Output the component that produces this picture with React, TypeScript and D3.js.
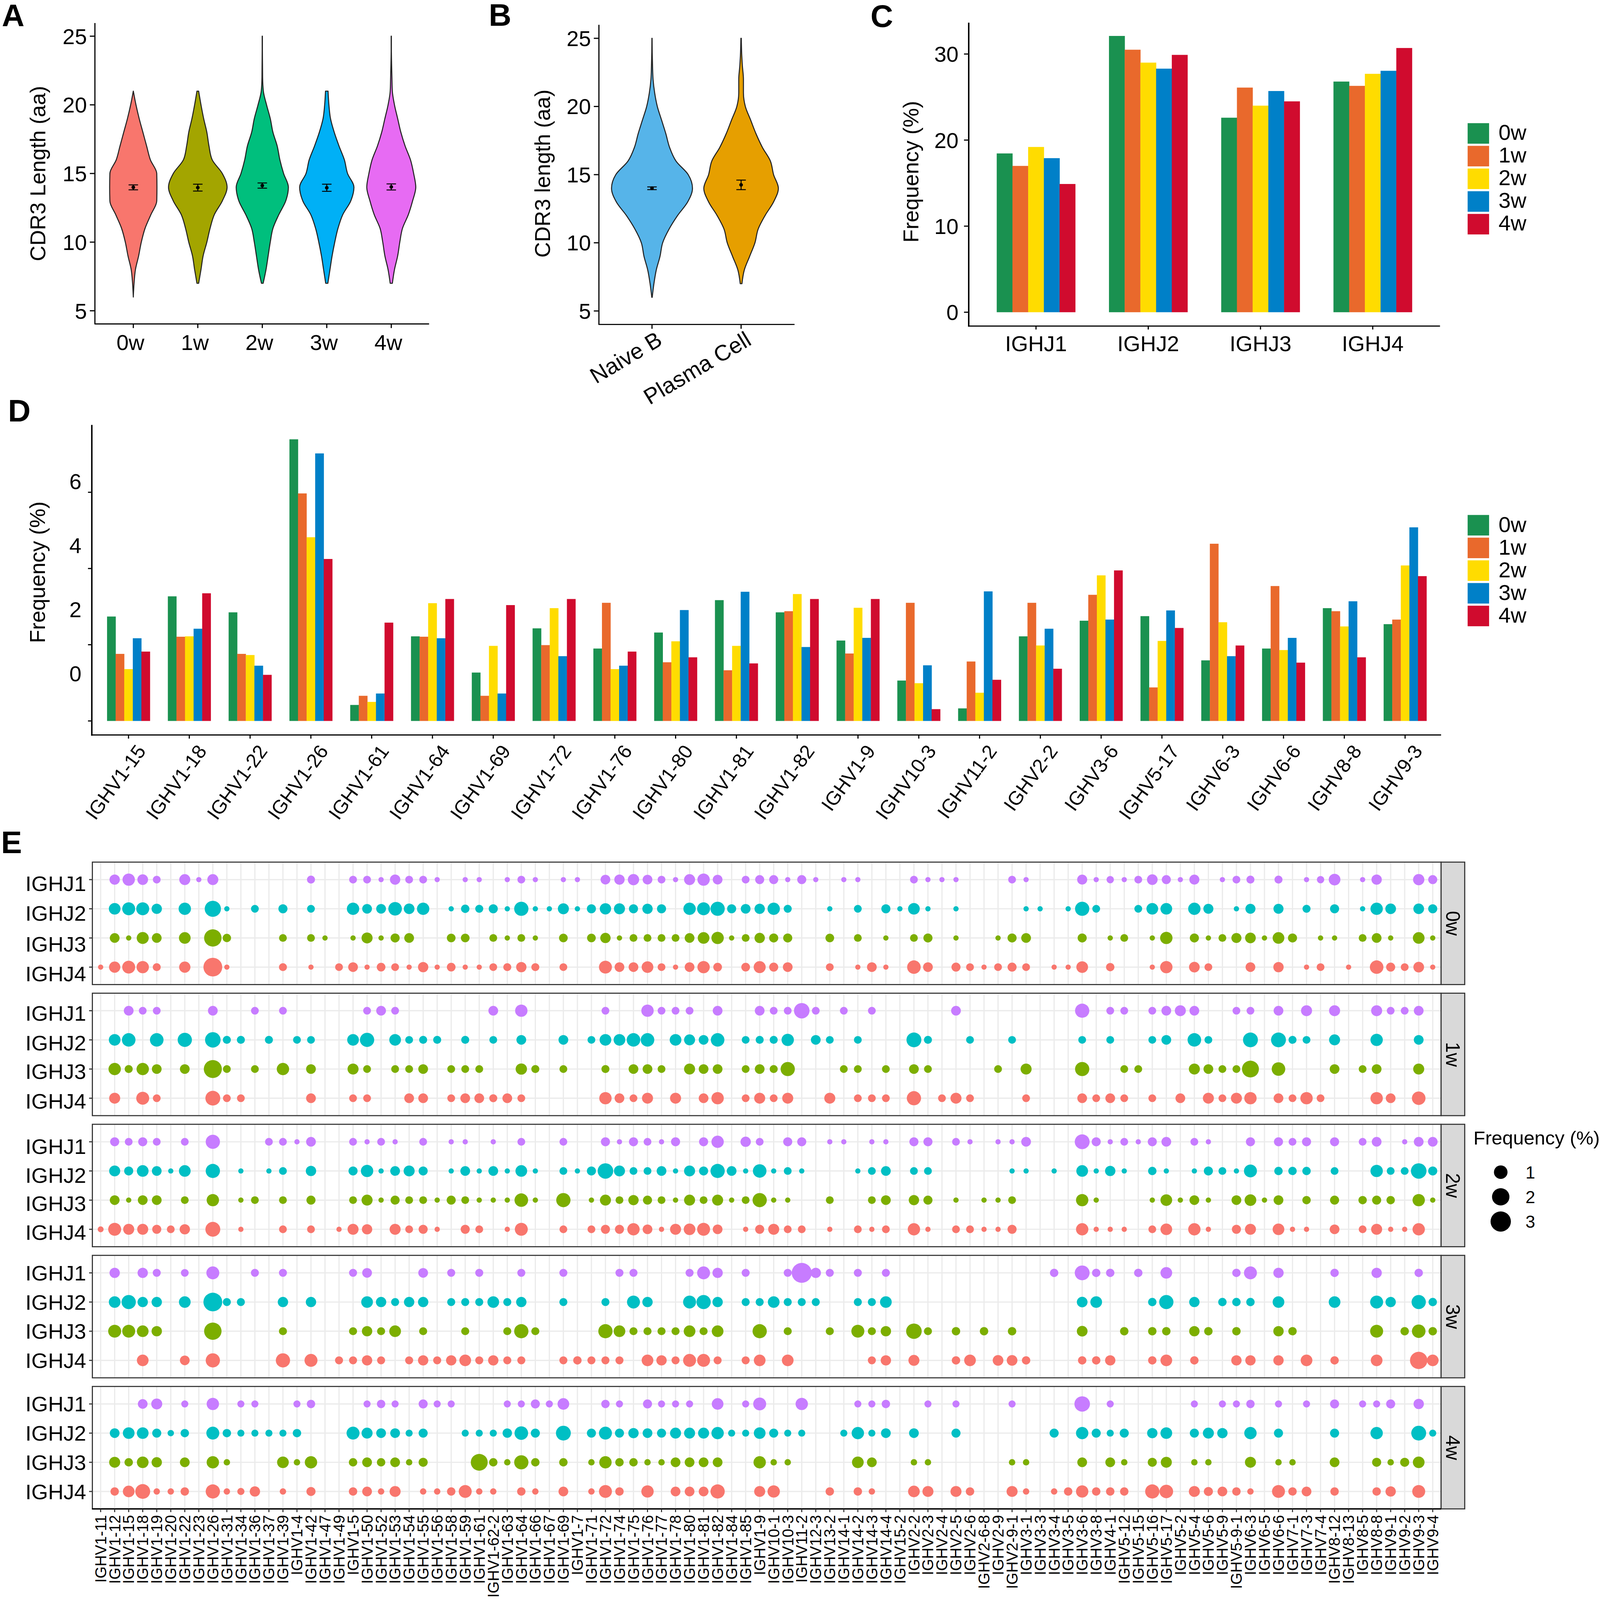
import React from "react";
import * as d3 from "d3";

const FONT = "'Liberation Sans', Arial, sans-serif";
const weeks = ["0w", "1w", "2w", "3w", "4w"];
const barColors = ["#1A9150", "#E9692C", "#FFDC00", "#0080C8", "#D00B2E"];

// Panel A
const violinBottomA = [6, 7, 7, 7, 7];
const densA0 = [0, .007, .02, .05, .075, .11, .165, .22, .222, .22, .16, .125, .09, .055, .025, 0];
const densA1 = [.008, .03, .05, .085, .115, .155, .23, .275, .23, .135, .105, .085, .055, .03, .008];
const densA2 = [.008, .035, .055, .075, .1, .155, .22, .245, .2, .165, .14, .1, .075, .04, .01, .003, .002, .001, .001];
const densA3 = [.01, .03, .05, .075, .105, .15, .225, .255, .195, .165, .115, .07, .035, .02, .012];
const densA4 = [.01, .03, .06, .08, .105, .16, .2, .23, .21, .18, .13, .09, .06, .03, .01, .006, .003, .001, .001];
const meansA = [13.99, 13.97, 14.12, 13.96, 14.02];
const errsA = [.18, .25, .19, .26, .22];
const colorsA = ["#F8766D", "#A3A500", "#00BF7D", "#00B0F6", "#E76BF3"];

// Panel B
const catsB = ["Naive B", "Plasma Cell"];
const violinBottomB = [6, 7];
const densB0 = [.002, .018, .04, .075, .10, .16, .24, .335, .38, .34, .225, .165, .13, .09, .05, .025, .01, .005, .002, .001];
const densB1 = [.008, .03, .08, .13, .16, .225, .305, .35, .305, .275, .2, .14, .09, .04, .022, .022, .012, .005, .002];
const meansB = [14, 14.25];
const errsB = [.1, .35];
const colorsB = ["#56B4E9", "#E69F00"];

// Panel C
const catsC = ["IGHJ1", "IGHJ2", "IGHJ3", "IGHJ4"];
const valsC = [
  [18.45, 17.0, 19.2, 17.9, 14.9],
  [32.1, 30.5, 29.0, 28.3, 29.9],
  [22.6, 26.1, 24.0, 25.7, 24.5],
  [26.8, 26.3, 27.7, 28.05, 30.7],
];

// Panel D
const catsD = ["IGHV1-15", "IGHV1-18", "IGHV1-22", "IGHV1-26", "IGHV1-61", "IGHV1-64", "IGHV1-69", "IGHV1-72", "IGHV1-76", "IGHV1-80", "IGHV1-81", "IGHV1-82", "IGHV1-9", "IGHV10-3", "IGHV11-2", "IGHV2-2", "IGHV3-6", "IGHV5-17", "IGHV6-3", "IGHV6-6", "IGHV8-8", "IGHV9-3"];
const valsD = [
  [2.74, 1.76, 1.36, 2.17, 1.82],
  [3.27, 2.21, 2.22, 2.42, 3.35],
  [2.85, 1.76, 1.73, 1.45, 1.21],
  [7.39, 5.97, 4.82, 7.02, 4.25],
  [.42, .66, .5, .72, 2.58],
  [2.22, 2.21, 3.09, 2.17, 3.2],
  [1.27, .66, 1.97, .72, 3.04],
  [2.43, 1.99, 2.96, 1.7, 3.2],
  [1.9, 3.1, 1.36, 1.45, 1.82],
  [2.32, 1.54, 2.09, 2.91, 1.67],
  [3.17, 1.33, 1.97, 3.39, 1.51],
  [2.85, 2.88, 3.33, 1.94, 3.2],
  [2.11, 1.77, 2.97, 2.18, 3.2],
  [1.06, 3.1, .99, 1.46, .31],
  [.33, 1.56, .74, 3.4, 1.08],
  [2.22, 3.1, 1.98, 2.42, 1.37],
  [2.63, 3.31, 3.82, 2.66, 3.95],
  [2.75, .88, 2.1, 2.9, 2.44],
  [1.59, 4.65, 2.59, 1.7, 1.98],
  [1.9, 3.54, 1.86, 2.18, 1.53],
  [2.96, 2.88, 2.48, 3.14, 1.67],
  [2.54, 2.66, 4.08, 5.08, 3.8],
];
const ticksD = [0, 2, 4, 6];

// Panel E
const genes = ["1-11", "1-12", "1-15", "1-18", "1-19", "1-20", "1-22", "1-23", "1-26", "1-31", "1-34", "1-36", "1-37", "1-39", "1-4", "1-42", "1-47", "1-49", "1-5", "1-50", "1-52", "1-53", "1-54", "1-55", "1-56", "1-58", "1-59", "1-61", "1-62-2", "1-63", "1-64", "1-66", "1-67", "1-69", "1-7", "1-71", "1-72", "1-74", "1-75", "1-76", "1-77", "1-78", "1-80", "1-81", "1-82", "1-84", "1-85", "1-9", "10-1", "10-3", "11-2", "12-3", "13-2", "14-1", "14-2", "14-3", "14-4", "15-2", "2-2", "2-3", "2-4", "2-5", "2-6", "2-6-8", "2-9", "2-9-1", "3-1", "3-3", "3-4", "3-5", "3-6", "3-8", "4-1", "5-12", "5-15", "5-16", "5-17", "5-2", "5-4", "5-6", "5-9", "5-9-1", "6-3", "6-5", "6-6", "7-1", "7-3", "7-4", "8-12", "8-13", "8-5", "8-8", "9-1", "9-2", "9-3", "9-4"].map(g => "IGHV" + g);
const joins = ["IGHJ1", "IGHJ2", "IGHJ3", "IGHJ4"];
const joinColors = ["#C77CFF", "#00BFC4", "#7CAE00", "#F8766D"];

type P = [number, number][];
const w0J1: P = [[1,.42],[2,.75],[3,.47],[4,.14],[6,.52],[7,.01],[8,.52],[15,.16],[18,.14],[19,.14],[20,.01],[21,.42],[22,.14],[23,.14],[24,.01],[26,.01],[27,.01],[29,.01],[30,.14],[31,.01],[33,.01],[34,.01],[36,.34],[37,.42],[38,.57],[39,.34],[40,.14],[41,.01],[42,.52],[43,.75],[44,.34],[46,.14],[47,.26],[48,.26],[49,.01],[50,.26],[51,.01],[53,.01],[54,.01],[58,.14],[59,.01],[60,.01],[61,.01],[65,.14],[66,.01],[70,.38],[71,.01],[72,.11],[73,.01],[74,.14],[75,.47],[76,.26],[77,.01],[78,.38],[80,.01],[81,.14],[82,.16],[84,.16],[86,.01],[87,.11],[88,.63],[90,.01],[91,.42],[94,.57],[95,.26]];
const w0J2: P = [[1,.63],[2,.87],[3,.87],[4,.42],[6,.75],[8,1.65],[9,.01],[11,.14],[13,.26],[15,.14],[18,.75],[19,.34],[20,.34],[21,1],[22,.47],[23,.75],[25,.01],[26,.19],[27,.16],[28,.26],[29,.01],[30,1.15],[31,.01],[32,.01],[33,.52],[34,.01],[35,.26],[36,.57],[37,.52],[38,.26],[39,.42],[40,.26],[42,.75],[43,.87],[44,1.15],[45,.26],[46,.34],[47,.42],[48,.75],[49,.16],[52,.01],[54,.14],[56,.26],[57,.01],[58,.63],[59,.01],[61,.01],[66,.01],[67,.01],[69,.01],[70,1.15],[71,.14],[74,.14],[75,.63],[76,.63],[78,.75],[79,.38],[81,.01],[82,.38],[84,.38],[86,.16],[88,.26],[90,.01],[91,.75],[92,.47],[94,.47],[95,.26]];
const w0J3: P = [[1,.34],[2,.01],[3,.69],[4,.34],[6,.63],[8,2],[9,.19],[13,.14],[15,.14],[16,.01],[18,.01],[19,.52],[20,.01],[21,.26],[22,.34],[25,.22],[26,.22],[28,.14],[29,.01],[30,.14],[31,.01],[33,.22],[35,.22],[36,.42],[37,.01],[38,.14],[39,.14],[40,.14],[41,.14],[42,.34],[43,.63],[44,.75],[45,.01],[46,.14],[47,.42],[48,.26],[49,.26],[52,.22],[54,.14],[56,.01],[58,.14],[59,.26],[61,.01],[64,.01],[65,.26],[66,.34],[70,.26],[72,.01],[73,.14],[75,.01],[76,.75],[78,.26],[79,.01],[80,.14],[81,.38],[82,.47],[83,.01],[84,.63],[85,.26],[87,.01],[88,.01],[90,.14],[91,.34],[92,.01],[94,.63],[95,.01]];
const w0J4: P = [[0,.01],[1,.57],[2,.87],[3,.75],[4,.16],[6,.57],[8,2.45],[9,.01],[13,.16],[15,.01],[17,.14],[18,.34],[19,.01],[20,.22],[21,.14],[22,.01],[23,.42],[24,.01],[25,.22],[26,.01],[27,.01],[28,.14],[29,.16],[30,.42],[31,.16],[33,.14],[36,.87],[37,.34],[38,.34],[39,.63],[40,.14],[41,.01],[42,.34],[43,.75],[44,.22],[46,.22],[47,.69],[48,.26],[49,.34],[52,.14],[54,.01],[55,.34],[56,.01],[58,1],[59,.34],[61,.26],[62,.14],[63,.01],[64,.14],[65,.26],[66,.14],[68,.01],[69,.01],[70,.63],[72,.19],[75,.01],[76,.75],[78,.47],[79,.14],[82,.34],[84,.42],[86,.01],[87,.14],[89,.01],[91,1],[92,.26],[93,.14],[94,.47],[95,.01]];

const w1J1: P = [[2,.34],[3,.14],[4,.14],[8,.34],[11,.14],[13,.14],[19,.14],[20,.34],[21,.14],[28,.34],[30,.75],[36,.14],[39,.75],[40,.14],[41,.14],[42,.14],[44,.34],[47,.34],[48,.14],[49,.14],[50,1.47],[51,.14],[53,.14],[55,.14],[61,.34],[70,1.15],[72,.14],[73,.14],[75,.14],[76,.34],[77,.52],[78,.34],[81,.14],[82,.14],[84,.34],[86,.52],[88,.52],[91,.52],[92,.14],[93,.14],[94,.34]];
const w1J2: P = [[1,.63],[2,1],[4,1],[6,1.15],[8,1.47],[9,.16],[10,.16],[12,.16],[14,.14],[15,.14],[18,.63],[19,1.15],[21,.63],[22,.14],[23,.16],[24,.16],[26,.16],[28,.14],[30,.34],[33,.34],[35,.14],[36,.63],[37,.63],[38,1],[39,1],[41,.63],[42,.52],[43,.34],[44,1],[46,.14],[47,.16],[48,.16],[49,.75],[51,.34],[52,.14],[54,.14],[58,1.3],[59,.16],[62,.14],[65,.14],[70,.14],[72,.14],[75,.14],[76,.34],[78,1],[79,.14],[82,1.3],[84,1.3],[85,.16],[86,.14],[88,.52],[91,.75],[94,.34]];
const w1J3: P = [[1,.75],[2,.16],[3,.75],[4,.34],[6,.34],[8,2.2],[9,.14],[11,.14],[13,.75],[15,.34],[18,.52],[19,.14],[21,.14],[22,.14],[23,.34],[25,.14],[26,.14],[27,.14],[30,.57],[31,.16],[33,.14],[36,.16],[38,.34],[39,.34],[40,.14],[42,.52],[43,.34],[44,.34],[46,.14],[47,.34],[48,.16],[49,1.15],[53,.14],[54,.14],[56,.14],[58,.34],[59,.14],[64,.14],[66,.52],[70,1.15],[73,.14],[74,.14],[78,.52],[79,.34],[80,.14],[81,.14],[82,1.85],[84,1],[88,.34],[90,.14],[91,.34],[94,.52]];
const w1J4: P = [[1,.52],[3,.87],[4,.14],[8,1.3],[9,.14],[10,.14],[15,.34],[18,.14],[19,.14],[22,.34],[23,.34],[25,.14],[26,.34],[27,.34],[28,.16],[29,.34],[30,.14],[36,.75],[37,.34],[38,.14],[39,.52],[41,.52],[43,.34],[44,.75],[46,.14],[47,.52],[48,.14],[49,.52],[52,.52],[54,.14],[55,.14],[56,.14],[58,1.15],[60,.14],[61,.52],[62,.14],[66,.14],[70,.34],[71,.14],[72,.34],[73,.14],[75,.14],[77,.34],[79,.52],[80,.14],[81,.52],[82,.75],[84,.34],[85,.14],[86,.75],[87,.14],[91,.75],[92,.34],[94,1]];

const w2J1: P = [[1,.26],[2,.14],[3,.26],[4,.14],[6,.14],[8,1.15],[12,.14],[13,.14],[14,.01],[15,.34],[18,.14],[19,.01],[20,.14],[21,.01],[23,.14],[25,.01],[26,.01],[28,.01],[30,.14],[33,.14],[36,.26],[37,.01],[38,.26],[39,.14],[40,.01],[41,.26],[43,.26],[44,.75],[46,.42],[47,.14],[49,.26],[50,.26],[52,.01],[53,.01],[55,.01],[56,.01],[58,.26],[59,.26],[61,.14],[62,.01],[64,.01],[65,.01],[66,.34],[70,1.3],[71,.26],[72,.01],[73,.14],[74,.01],[75,.26],[76,.34],[78,.14],[79,.01],[82,.26],[84,.26],[85,.14],[86,.26],[88,.26],[90,.14],[91,.34],[93,.01],[94,.34],[95,.34]];
const w2J2: P = [[1,.52],[2,.26],[3,.63],[4,.34],[5,.01],[6,.63],[8,1.15],[10,.01],[12,.01],[13,.14],[15,.42],[18,.26],[19,.75],[20,.01],[21,.34],[22,.52],[23,.26],[25,.01],[26,.34],[27,.01],[28,.34],[29,.01],[30,.63],[31,.01],[33,.14],[34,.01],[35,.26],[36,1.47],[37,.52],[38,.14],[39,.14],[40,.34],[41,.01],[42,.52],[43,.26],[44,1.15],[45,.34],[46,.01],[47,1],[48,.01],[49,.14],[50,.01],[54,.01],[55,.14],[56,.34],[58,.14],[59,.14],[65,.01],[66,.01],[68,.01],[70,.63],[71,.01],[72,.42],[73,.01],[75,.19],[76,.01],[78,.01],[79,.26],[80,.14],[81,.01],[82,.87],[84,.19],[85,.19],[86,.19],[88,.14],[91,.75],[92,.14],[93,.14],[94,1.47],[95,.26]];
const w2J3: P = [[1,.34],[2,.01],[3,.34],[4,.34],[6,.14],[8,.75],[10,.01],[11,.14],[13,.14],[15,.26],[18,.14],[19,.52],[20,.01],[21,.26],[22,.14],[23,.14],[24,.01],[25,.26],[26,.14],[27,.01],[28,.01],[29,.01],[30,1],[31,.01],[33,1.15],[35,.01],[36,.52],[37,.14],[38,.42],[39,.26],[40,.14],[41,.01],[42,.52],[43,.14],[44,.52],[45,.01],[46,.14],[47,1.15],[48,.01],[49,.01],[52,.14],[55,.14],[56,.34],[58,.42],[59,.26],[61,.01],[63,.01],[64,.01],[65,.14],[70,.75],[71,.01],[75,.01],[76,.63],[77,.01],[78,.34],[79,.01],[81,.34],[82,.63],[83,.01],[84,.34],[86,.19],[88,.26],[90,.19],[91,.26],[92,.19],[94,.75],[95,.01]];
const w2J4: P = [[0,.03],[1,.87],[2,.52],[3,.52],[4,.26],[5,.14],[6,.42],[8,1.3],[10,.01],[13,.14],[15,.14],[17,.01],[18,.52],[19,.42],[21,.52],[22,.14],[23,.26],[24,.01],[26,.26],[27,.14],[29,.01],[30,.87],[33,.14],[35,.14],[36,.26],[37,.26],[38,.75],[39,.34],[40,.01],[41,.52],[42,.63],[43,.87],[44,.34],[46,.01],[47,.26],[48,.52],[49,.14],[50,.14],[52,.01],[54,.14],[55,.01],[56,.14],[58,.75],[59,.01],[61,.14],[62,.14],[63,.01],[64,.01],[65,.26],[70,.75],[71,.01],[72,.01],[73,.01],[75,.14],[76,.63],[78,.75],[79,.01],[81,.26],[82,.52],[84,.63],[85,.01],[86,.01],[88,.34],[90,.14],[91,.52],[92,.01],[93,.01],[94,.75]];

const w3J1: P = [[1,.42],[3,.42],[4,.16],[6,.14],[8,.87],[11,.16],[13,.16],[18,.16],[19,.34],[23,.34],[25,.16],[27,.16],[30,.16],[33,.16],[37,.16],[38,.16],[42,.16],[43,.87],[44,.42],[46,.16],[49,.16],[50,2.9],[51,.42],[52,.16],[54,.16],[56,.16],[68,.19],[70,1.3],[71,.19],[72,.19],[74,.19],[76,.63],[81,.19],[82,.87],[84,.42],[88,.19],[91,.42],[94,.19]];
const w3J2: P = [[1,.63],[2,1.15],[3,.42],[4,.42],[6,.63],[8,2.45],[9,.16],[10,.16],[13,.42],[15,.42],[19,.63],[20,.42],[21,.16],[22,.42],[23,.42],[25,.16],[26,.16],[27,.16],[28,.63],[29,.16],[30,.42],[33,.16],[36,.16],[38,.87],[39,.42],[42,.87],[43,1.15],[44,.42],[46,.16],[47,.16],[48,.63],[49,.16],[50,.16],[51,.16],[54,.16],[55,.16],[56,.63],[70,.47],[71,.63],[75,.19],[76,1.15],[78,.42],[80,.19],[81,.19],[82,.19],[84,.63],[88,.63],[91,.87],[92,.42],[94,1.15],[95,.19]];
const w3J3: P = [[1,.87],[2,.87],[3,.63],[4,.42],[8,2],[13,.16],[18,.16],[19,.42],[20,.16],[21,.63],[23,.16],[26,.16],[29,.16],[30,1.15],[31,.16],[36,1.15],[37,.63],[38,.16],[39,.16],[40,.16],[41,.16],[42,.63],[43,.16],[44,.63],[47,1.15],[49,.16],[52,.16],[54,.87],[55,.16],[56,.42],[58,1.47],[59,.16],[61,.19],[63,.19],[65,.19],[70,.47],[73,.19],[75,.19],[76,.19],[78,.42],[79,.19],[81,.19],[84,.42],[85,.19],[91,.87],[93,.19],[94,1],[95,.19]];
const w3J4: P = [[3,.63],[6,.34],[8,1.15],[13,1.15],[15,.87],[17,.16],[18,.16],[19,.42],[20,.16],[22,.16],[23,.42],[24,.16],[25,.42],[26,.63],[27,.16],[28,.42],[29,.16],[30,.16],[33,.16],[34,.19],[35,.16],[36,.16],[37,.16],[39,.63],[40,.42],[41,.16],[42,.87],[43,.87],[44,.16],[46,.16],[47,.63],[49,.63],[55,.16],[56,.42],[58,.52],[61,.19],[62,.63],[64,.47],[65,.47],[66,.19],[70,.19],[71,.19],[72,.42],[75,.19],[76,.63],[78,.19],[81,.42],[82,.42],[84,.42],[86,.63],[88,.19],[91,.63],[94,2],[95,.63]];

const w4J1: P = [[3,.34],[4,.52],[6,.09],[8,.75],[10,.09],[11,.09],[14,.09],[15,.19],[19,.09],[20,.19],[21,.09],[23,.26],[24,.09],[25,.09],[29,.09],[30,.09],[31,.26],[32,.09],[33,.63],[36,.19],[37,.09],[39,.26],[40,.09],[41,.09],[42,.09],[44,.63],[46,.09],[47,.87],[50,.75],[54,.09],[55,.09],[56,.19],[59,.09],[61,.09],[65,.09],[70,1.47],[72,.09],[78,.09],[80,.09],[81,.09],[82,.19],[84,.09],[86,.09],[88,.26],[90,.09],[91,.09],[92,.26],[94,.42]];
const w4J2: P = [[1,.34],[2,.63],[3,.63],[4,.26],[5,.05],[6,.19],[8,.87],[9,.19],[10,.09],[11,.09],[12,.09],[13,.09],[14,.19],[18,.87],[19,.52],[20,.34],[21,.34],[22,.09],[23,.26],[26,.09],[27,.09],[28,.09],[29,.3],[30,1],[31,.26],[33,1.3],[35,.26],[36,.87],[37,.26],[38,.42],[39,.34],[40,.26],[41,.52],[42,.52],[43,.52],[44,.75],[45,.09],[46,.09],[47,.63],[48,.26],[49,.09],[50,.09],[53,.09],[54,.75],[55,.09],[56,.34],[58,.34],[61,.26],[68,.26],[70,.75],[71,.26],[72,.09],[73,.26],[75,.42],[76,.63],[78,.26],[79,.52],[80,.42],[82,.75],[84,.26],[88,.26],[91,.75],[94,1.3],[95,.09]];
const w4J3: P = [[1,.52],[2,.19],[3,.63],[4,.42],[6,.34],[8,.75],[9,.05],[13,.63],[14,.05],[15,.75],[18,.19],[19,.34],[20,.19],[21,.34],[22,.05],[23,.26],[27,1.85],[28,.19],[29,.05],[30,1.15],[31,.19],[33,.19],[35,.05],[36,.75],[37,.19],[38,.19],[39,.05],[40,.05],[41,.34],[42,.34],[43,.34],[44,.34],[47,.75],[48,.05],[49,.05],[54,.63],[55,.34],[58,.05],[59,.05],[65,.05],[66,.05],[70,.34],[72,.34],[73,.05],[75,.26],[76,.52],[78,.05],[79,.05],[82,.52],[84,.05],[85,.05],[88,.34],[91,.26],[92,.05],[93,.26],[94,.63]];
const w4J4: P = [[1,.19],[2,.63],[3,1.3],[4,.05],[5,.05],[6,.19],[8,1.15],[9,.05],[10,.09],[11,.42],[13,.05],[15,.26],[18,.19],[19,.34],[20,.05],[21,.52],[23,.05],[24,.05],[25,.19],[26,.87],[27,.05],[28,.05],[30,.19],[31,.05],[33,.34],[35,.05],[36,.87],[37,.19],[39,.75],[41,.34],[42,.34],[43,.34],[44,1.15],[47,.52],[48,.75],[52,.19],[54,.19],[55,.05],[58,.63],[59,.52],[61,.52],[62,.19],[65,.52],[66,.05],[68,.05],[69,.19],[70,.75],[71,.19],[72,.19],[73,.19],[75,1.15],[76,1],[78,.52],[79,.26],[80,.34],[81,.19],[82,.05],[84,.87],[85,.19],[86,.34],[88,.19],[91,.19],[92,.42],[94,.87]];

const rowsE: P[][] = [
  [w0J1, w0J2, w0J3, w0J4],
  [w1J1, w1J2, w1J3, w1J4],
  [w2J1, w2J2, w2J3, w2J4],
  [w3J1, w3J2, w3J3, w3J4],
  [w4J1, w4J2, w4J3, w4J4],
];
const legendSizes = [1, 2, 3];

// layout only
const lw = 3.2;
const panelTops = [2394, 2758, 3122, 3486, 3850];
const panelH = 340;
const labelShifts = [[10, 12, 16, 18], [7, 8, 6, 8], [12, 12, 9, 8], [0, 0, 0, 0], [-1, 0, 0, 0]];

const densA = [densA0, densA1, densA2, densA3, densA4];
const densB = [densB0, densB1];

const sizeScale = d3.scaleSqrt().domain([0, 3]).range([6, 28]);
const widthScale = d3.scaleLinear().domain([0, 1]).range([0, 293]);

function Violin({ cx, bottom, dens, y, fill, mean, err }: any) {
  const pts: [number, number][] = dens.map((d: number, i: number) => [bottom + i, d]);
  const path = d3.area<[number, number]>()
    .y(d => y(d[0]))
    .x0(d => cx - widthScale(d[1]))
    .x1(d => cx + widthScale(d[1]))
    .curve(d3.curveMonotoneY)(pts) as string;
  return (
    <g>
      <path d={path} fill={fill} stroke="#222" strokeWidth={2.8} strokeLinejoin="round" />
      <line x1={cx} x2={cx} y1={y(mean - err)} y2={y(mean + err)} stroke="#000" strokeWidth={2.6} />
      <line x1={cx - 13} x2={cx + 13} y1={y(mean - err)} y2={y(mean - err)} stroke="#000" strokeWidth={2.6} />
      <line x1={cx - 13} x2={cx + 13} y1={y(mean + err)} y2={y(mean + err)} stroke="#000" strokeWidth={2.6} />
      <circle cx={cx} cy={y(mean)} r={5} fill="#000" />
    </g>
  );
}

function Legend({ top, baseline }: { top: number; baseline: number }) {
  return (
    <g>
      {weeks.map((w, i) => (
        <g key={w}>
          <rect x={4036} y={top + i * 63} width={59} height={57} fill={barColors[i]} />
          <text x={4121} y={baseline + i * 63} fontSize={60}>{w}</text>
        </g>
      ))}
    </g>
  );
}

export default function App() {
  // A
  const yA = d3.scaleLinear().domain([5, 25]).range([863, 100.5]);
  const xA = d3.scalePoint().domain(weeks).range([366.6, 1076]);
  // B
  const yB = d3.scaleLinear().domain([5, 25]).range([863.5, 106.4]);
  const xB = d3.scalePoint().domain(catsB).range([1793, 2038]);
  // C
  const yC = d3.scaleLinear().domain([0, 30]).range([867, 150]);
  const xC = d3.scalePoint().domain(catsC).range([2849, 3775]);
  const bwC = 43.2;
  // D
  const yD = d3.scaleLinear().domain([0, 6]).range([2002, 1367]);
  const yDLabel = d3.scaleLinear().domain([0, 6]).range([1870, 1337]);
  const xD = d3.scalePoint().domain(catsD).range([353.4, 3864]);
  const bwD = 23.6;
  // E
  const xE = d3.scalePoint().domain(genes).range([276.8, 3940]);
  const yE = d3.scalePoint().domain(joins).range([48.6, 291.6]);
  const left = 254, right = 3963;

  return (
    <svg viewBox="0 0 4400 4443" preserveAspectRatio="none"
      style={{ position: "absolute", left: 0, top: 0, width: "100vw", height: "100vh", background: "#fff" }}
      fontFamily={FONT} fill="#000">
      {/* panel letters */}
      <g fontSize={86} fontWeight="bold">
        <text x={5} y={73}>A</text>
        <text x={1344} y={72}>B</text>
        <text x={2394} y={75}>C</text>
        <text x={22} y={1170}>D</text>
        <text x={3} y={2369}>E</text>
      </g>

      {/* A */}
      <g>
        {weeks.map((w, i) => (
          <Violin key={w} cx={xA(w)} bottom={violinBottomA[i]} dens={densA[i]} y={yA} fill={colorsA[i]} mean={meansA[i]} err={errsA[i]} />
        ))}
        <line x1={261} x2={261} y1={64} y2={900} stroke="#000" strokeWidth={lw} />
        <line x1={260} x2={1180} y1={899.5} y2={899.5} stroke="#000" strokeWidth={lw} />
        {yA.ticks(4).map(t => (
          <g key={t}>
            <line x1={247} x2={261} y1={yA(t)} y2={yA(t)} stroke="#000" strokeWidth={lw} />
            <text x={239} y={yA(t)} dy=".36em" textAnchor="end" fontSize={60}>{t}</text>
          </g>
        ))}
        {weeks.map(w => (
          <g key={w}>
            <line x1={xA(w)} x2={xA(w)} y1={899} y2={911} stroke="#000" strokeWidth={lw} />
            <text x={(xA(w) as number) - 8} y={972} textAnchor="middle" fontSize={60}>{w}</text>
          </g>
        ))}
        <text transform="translate(125,482) rotate(-90)" textAnchor="middle" fontSize={60}>CDR3 Length (aa)</text>
      </g>

      {/* B */}
      <g>
        {catsB.map((c, i) => (
          <Violin key={c} cx={xB(c)} bottom={violinBottomB[i]} dens={densB[i]} y={yB} fill={colorsB[i]} mean={meansB[i]} err={errsB[i]} />
        ))}
        <line x1={1647} x2={1647} y1={69} y2={902} stroke="#000" strokeWidth={lw} />
        <line x1={1646} x2={2185} y1={901} y2={901} stroke="#000" strokeWidth={lw} />
        {yB.ticks(4).map(t => (
          <g key={t}>
            <line x1={1633} x2={1647} y1={yB(t)} y2={yB(t)} stroke="#000" strokeWidth={lw} />
            <text x={1625} y={yB(t)} dy=".36em" textAnchor="end" fontSize={60}>{t}</text>
          </g>
        ))}
        {catsB.map(c => (
          <g key={c}>
            <line x1={xB(c)} x2={xB(c)} y1={901} y2={913} stroke="#000" strokeWidth={lw} />
            <text transform={`translate(${(xB(c) as number) + 32},${955}) rotate(-31)`} textAnchor="end" fontSize={62}>{c}</text>
          </g>
        ))}
        <text transform="translate(1513,482) rotate(-90)" textAnchor="middle" fontSize={60}>CDR3 length (aa)</text>
      </g>

      {/* C */}
      <g>
        {catsC.map((c, g) => valsC[g].map((v, i) => (
          <rect key={c + i} x={(xC(c) as number) - 2.5 * bwC + i * bwC} y={yC(v)} width={bwC + 0.5} height={yC(0) - yC(v)} fill={barColors[i]} />
        )))}
        <line x1={2664} x2={2664} y1={63} y2={907} stroke="#000" strokeWidth={4} />
        <line x1={2662} x2={3960} y1={905.5} y2={905.5} stroke="#000" strokeWidth={lw} />
        {yC.ticks(3).map(t => (
          <g key={t}>
            <line x1={2651} x2={2664} y1={yC(t)} y2={yC(t)} stroke="#000" strokeWidth={lw} />
            <text x={2636} y={yC(t)} dy=".36em" textAnchor="end" fontSize={60}>{t}</text>
          </g>
        ))}
        {catsC.map(c => (
          <g key={c}>
            <line x1={xC(c)} x2={xC(c)} y1={905} y2={915} stroke="#000" strokeWidth={lw} />
            <text x={xC(c)} y={975} textAnchor="middle" fontSize={60}>{c}</text>
          </g>
        ))}
        <text transform="translate(2526,477) rotate(-90)" textAnchor="middle" fontSize={60}>Frequency (%)</text>
        <Legend top={342} baseline={388} />
      </g>

      {/* D */}
      <g>
        {catsD.map((c, g) => valsD[g].map((v, i) => (
          <rect key={c + i} x={(xD(c) as number) - 2.5 * bwD + i * bwD} y={yD(v)} width={bwD + 0.4} height={yD(0) - yD(v)} fill={barColors[i]} />
        )))}
        <line x1={252.5} x2={252.5} y1={1180} y2={2043} stroke="#000" strokeWidth={4} />
        <line x1={251} x2={3963} y1={2041} y2={2041} stroke="#000" strokeWidth={lw} />
        {ticksD.map(t => (
          <g key={t}>
            <line x1={242} x2={252} y1={yD(t)} y2={yD(t)} stroke="#000" strokeWidth={lw} />
            <text x={224} y={yDLabel(t)} dy=".36em" textAnchor="end" fontSize={60}>{t}</text>
          </g>
        ))}
        {catsD.map(c => (
          <g key={c}>
            <line x1={xD(c)} x2={xD(c)} y1={2041} y2={2051} stroke="#000" strokeWidth={lw} />
            <text transform={`translate(${(xD(c) as number) + 50},${2086}) rotate(-54)`} textAnchor="end" fontSize={54}>{c}</text>
          </g>
        ))}
        <text transform="translate(124,1589) rotate(-90)" textAnchor="middle" fontSize={60}>Frequency (%)</text>
        <Legend top={1430} baseline={1477} />
      </g>

      {/* E */}
      <g>
        {rowsE.map((rows, p) => (
          <g key={p} transform={`translate(0,${panelTops[p]})`}>
            <rect x={left} y={0} width={right - left} height={panelH} fill="#fff" />
            {genes.map(g => (
              <line key={g} x1={xE(g)} x2={xE(g)} y1={0} y2={panelH} stroke="#EBEBEB" strokeWidth={3.4} />
            ))}
            {joins.map(j => (
              <line key={j} x1={left} x2={right} y1={yE(j)} y2={yE(j)} stroke="#EBEBEB" strokeWidth={3.4} />
            ))}
            {rows.map((row, r) => row.map(([i, f]) => (
              <circle key={r + "-" + i} cx={xE(genes[i])} cy={yE(joins[r])} r={sizeScale(f)} fill={joinColors[r]} />
            )))}
            <rect x={left} y={0} width={right - left} height={panelH} fill="none" stroke="#333" strokeWidth={3} />
            <rect x={right} y={0} width={65} height={panelH} fill="#D9D9D9" stroke="#333" strokeWidth={3} />
            <text transform={`translate(${right + 33},${panelH / 2}) rotate(90)`} textAnchor="middle" dy=".36em" fontSize={54}>{weeks[p]}</text>
            {joins.map((j, r) => (
              <g key={j}>
                <line x1={left - 9} x2={left} y1={yE(j)} y2={yE(j)} stroke="#333" strokeWidth={3} />
                <text x={237} y={(yE(j) as number) + labelShifts[p][r]} dy=".36em" textAnchor="end" fontSize={59}>{j}</text>
              </g>
            ))}
          </g>
        ))}
        <line x1={left - 1} x2={right} y1={4190} y2={4190} stroke="#000" strokeWidth={4} />
        {genes.map(g => (
          <g key={g}>
            <line x1={xE(g)} x2={xE(g)} y1={4190} y2={4199} stroke="#333" strokeWidth={3} />
            <text transform={`translate(${(xE(g) as number) + 15},4207) rotate(-90)`} textAnchor="end" fontSize={43}>{g}</text>
          </g>
        ))}
        <text x={4052} y={3178} fontSize={53}>Frequency (%)</text>
        {legendSizes.map((s, i) => (
          <g key={s}>
            <circle cx={4127} cy={3255 + i * 68.5} r={sizeScale(s)} fill="#000" />
            <text x={4195} y={3255 + i * 68.5} dy=".36em" fontSize={48}>{s}</text>
          </g>
        ))}
      </g>
    </svg>
  );
}
